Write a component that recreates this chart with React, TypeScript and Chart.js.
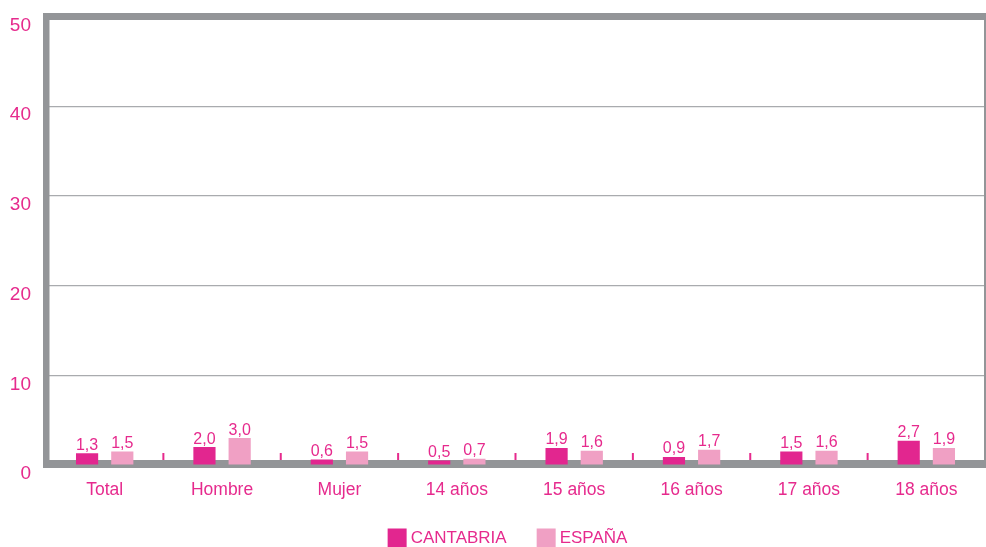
import React, { useEffect, useRef } from "react";
import { Chart, registerables } from "chart.js";

Chart.register(...registerables);

const categories = ["Total", "Hombre", "Mujer", "14 años", "15 años", "16 años", "17 años", "18 años"];
const cantabria = [1.3, 2.0, 0.6, 0.5, 1.9, 0.9, 1.5, 2.7];
const espana = [1.5, 3.0, 1.5, 0.7, 1.6, 1.7, 1.6, 1.9];
const seriesNames = ["CANTABRIA", "ESPAÑA"];
const yTicks = [0, 10, 20, 30, 40, 50];

const PINK = "#e62a8d";
const C1 = "#e2268f";
const C2 = "#f0a0c4";
const FRAME = "#939598";
const GRID = "#a9abae";
const FONT = "'Liberation Sans', Arial, sans-serif";

const framePlugin = {
  id: "frame",
  beforeDatasetsDraw(chart: any) {
    const { ctx, chartArea: ca } = chart;
    ctx.save();
    ctx.fillStyle = FRAME;
    ctx.fillRect(ca.left - 3, ca.top - 3.5, ca.right - ca.left + 4, 7);
    ctx.fillRect(ca.left - 3, ca.top - 3.5, 6.5, ca.bottom + 3 - (ca.top - 3.5));
    ctx.fillRect(ca.left - 3, ca.bottom - 5, ca.right - ca.left + 4, 8);
    ctx.fillRect(ca.right - 1, ca.top - 3.5, 2, ca.bottom + 3 - (ca.top - 3.5));
    const xs = chart.scales.x;
    ctx.fillStyle = PINK;
    for (let i = 0; i < categories.length - 1; i++) {
      const x = (xs.getPixelForTick(i) + xs.getPixelForTick(i + 1)) / 2;
      ctx.fillRect(x - 1, ca.bottom - 12, 2, 7);
    }
    ctx.restore();
  },
  afterDatasetsDraw(chart: any) {
    const { ctx } = chart;
    ctx.save();
    ctx.fillStyle = PINK;
    ctx.font = `16px ${FONT}`;
    ctx.textAlign = "center";
    ctx.textBaseline = "alphabetic";
    chart.data.datasets.forEach((ds: any, di: number) => {
      const meta = chart.getDatasetMeta(di);
      meta.data.forEach((bar: any, i: number) => {
        const v = ds.data[i] as number;
        ctx.fillText(v.toFixed(1).replace(".", ","), bar.x, bar.y - 3.5);
      });
    });
    ctx.font = `17px ${FONT}`;
    ctx.textBaseline = "middle";
    ctx.textAlign = "left";
    const box = 19;
    const gapText = 4;
    const gapItem = 30;
    const w1 = ctx.measureText(seriesNames[0]).width;
    const w2 = ctx.measureText(seriesNames[1]).width;
    const total = box + gapText + w1 + gapItem + box + gapText + w2;
    const ca = chart.chartArea;
    let x = (ca.left + ca.right) / 2 - 8 - total / 2;
    const yc = chart.height - 9;
    const colors = [C1, C2];
    [w1, w2].forEach((w, i) => {
      ctx.fillStyle = colors[i];
      ctx.fillRect(x, yc - box / 2, box, box);
      ctx.fillStyle = PINK;
      ctx.fillText(seriesNames[i], x + box + gapText, yc);
      x += box + gapText + w + gapItem;
    });
    ctx.restore();
  },
};

export default function App() {
  const ref = useRef<HTMLCanvasElement>(null);
  useEffect(() => {
    document.body.style.margin = "0";
    const chart = new Chart(ref.current!, {
      type: "bar",
      data: {
        labels: categories,
        datasets: [
          { label: seriesNames[0], data: cantabria, backgroundColor: C1, categoryPercentage: 0.6, barPercentage: 0.63 },
          { label: seriesNames[1], data: espana, backgroundColor: C2, categoryPercentage: 0.6, barPercentage: 0.63 },
        ],
      },
      options: {
        animation: false,
        responsive: false,
        maintainAspectRatio: false,
        layout: { padding: { top: 16.5, right: 1, left: 0, bottom: 0 } },
        plugins: { legend: { display: false }, tooltip: { enabled: false } },
        scales: {
          x: {
            grid: { display: false, drawTicks: false },
            border: { display: false },
            ticks: { color: PINK, font: { family: FONT, size: 17.5 }, padding: 15 },
            afterFit(scale: any) {
              scale.height = 82;
              scale.paddingLeft = 0;
              scale.paddingRight = 0;
            },
          },
          y: {
            min: 0,
            max: 50,
            afterBuildTicks(scale: any) {
              scale.ticks = yTicks.map((v) => ({ value: v }));
            },
            grid: {
              color: (c: any) => (c.tick && (c.tick.value === 0 || c.tick.value === 50) ? "rgba(0,0,0,0)" : GRID),
              lineWidth: 1.2,
              drawTicks: false,
            },
            border: { display: false },
            ticks: { color: PINK, font: { family: FONT, size: 19 }, padding: 15, labelOffset: 9 },
            afterFit(scale: any) {
              scale.width = 46;
              scale.paddingTop = 0;
              scale.paddingBottom = 0;
            },
          },
        },
      },
      plugins: [framePlugin],
    });
    return () => chart.destroy();
  }, []);
  return (
    <div style={{ position: "fixed", left: 0, top: 0, width: 986, height: 547 }}>
      <canvas ref={ref} width={986} height={547} style={{ display: "block", width: 986, height: 547 }} />
    </div>
  );
}
